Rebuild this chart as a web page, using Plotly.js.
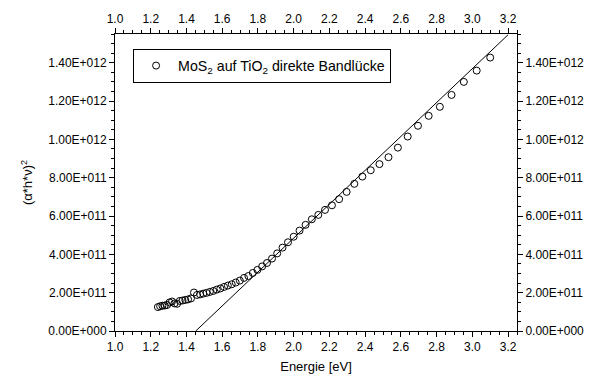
<!DOCTYPE html>
<html>
<head>
<meta charset="utf-8">
<script src="https://cdn.plot.ly/plotly-3.0.1.min.js"></script>
<style>html,body{margin:0;padding:0;background:#fff;}#chart{width:589px;height:379px;}</style>
</head>
<body>
<div id="chart"></div>
<script>
// Photon energy (eV) of measured points
const energy = [1.2400,1.2525,1.2653,1.2784,1.2917,1.3053,1.3191,1.3333,1.3478,1.3626,
  1.3778,1.3933,1.4091,1.4253,1.4419,1.4588,1.4762,1.4940,1.5122,1.5309,
  1.5500,1.5696,1.5897,1.6104,1.6316,1.6533,1.6757,1.6986,1.7222,1.7465,
  1.7714,1.7971,1.8235,1.8507,1.8788,1.9077,1.9375,1.9683,2.0000,2.0328,
  2.0667,2.1017,2.1379,2.1754,2.2143,2.2545,2.2963,2.3396,2.3846,2.4314,
  2.4800,2.5306,2.5833,2.6383,2.6957,2.7556,2.8182,2.8837,2.9524,3.0244,3.1000];
// (alpha*h*nu)^2
const tauc = [1.25e11,1.29e11,1.32e11,1.33e11,1.36e11,1.49e11,1.54e11,1.44e11,1.42e11,1.57e11,
  1.59e11,1.62e11,1.65e11,1.70e11,2.01e11,1.88e11,1.91e11,1.95e11,1.99e11,2.04e11,
  2.09e11,2.16e11,2.22e11,2.30e11,2.37e11,2.44e11,2.53e11,2.63e11,2.77e11,2.87e11,
  3.03e11,3.19e11,3.37e11,3.55e11,3.78e11,4.05e11,4.35e11,4.63e11,4.92e11,5.24e11,
  5.54e11,5.83e11,6.06e11,6.32e11,6.56e11,6.88e11,7.26e11,7.68e11,8.06e11,8.39e11,
  8.71e11,9.07e11,9.57e11,1.015e12,1.071e12,1.123e12,1.170e12,1.232e12,1.300e12,1.359e12,1.427e12];
// Linear fit (band gap extrapolation)
const fitX = [1.452, 3.2];
const fitY = [0, 1.546e12];

const xTicks = [1.0,1.2,1.4,1.6,1.8,2.0,2.2,2.4,2.6,2.8,3.0,3.2];
const xTickText = ["1.0","1.2","1.4","1.6","1.8","2.0","2.2","2.4","2.6","2.8","3.0","3.2"];
const yTicks = [0,2e11,4e11,6e11,8e11,1e12,1.2e12,1.4e12];
const yTickText = ["0.00E+000","2.00E+011","4.00E+011","6.00E+011","8.00E+011","1.00E+012","1.20E+012","1.40E+012"];

const seriesName = "MoS<sub>2</sub> auf TiO<sub>2</sub> direkte Bandlücke";
const font = "Liberation Sans, Arial, sans-serif";

const traces = [
  {x: energy, y: tauc, type: 'scatter', mode: 'markers', name: seriesName,
   marker: {symbol: 'circle-open', size: 7, color: '#000', line: {width: 1, color: '#000'}}},
  {x: fitX, y: fitY, type: 'scatter', mode: 'lines', showlegend: false,
   line: {color: '#000', width: 1}},
  {x: fitX, y: fitY, xaxis: 'x2', yaxis: 'y2', type: 'scatter', mode: 'lines',
   showlegend: false, hoverinfo: 'skip', line: {color: 'rgba(0,0,0,0)', width: 0}}
];

const xRange = [1.0, 3.25];
const yRange = [0, 1.55e12];
const common = {showgrid: false, zeroline: false, showline: true, linecolor: '#000', linewidth: 1,
  ticks: 'outside', ticklen: 5, tickwidth: 1, tickcolor: '#000',
  tickfont: {family: font, size: 12, color: '#000'}};

const layout = {
  width: 589, height: 379,
  margin: {l: 115, r: 72, t: 34, b: 48},
  paper_bgcolor: '#fff', plot_bgcolor: '#fff',
  font: {family: font, size: 12, color: '#000'},
  showlegend: true,
  legend: {x: 0.045, y: 0.95, xanchor: 'left', yanchor: 'top', bgcolor: '#fff', itemwidth: 34,
    bordercolor: '#000', borderwidth: 1, font: {family: font, size: 14.2, color: '#000'}},
  xaxis: Object.assign({}, common, {range: xRange, tickmode: 'array', tickvals: xTicks, ticktext: xTickText,
    minor: {dtick: 0.05, ticks: 'outside', ticklen: 3, tickcolor: '#000', tickwidth: 1},
    title: {text: 'Energie [eV]', font: {family: font, size: 13, color: '#000'}, standoff: 8}}),
  yaxis: Object.assign({}, common, {range: yRange, tickmode: 'array', tickvals: yTicks, ticktext: yTickText,
    minor: {dtick: 5e10, ticks: 'outside', ticklen: 3, tickcolor: '#000', tickwidth: 1},
    title: {text: '(α*h*ν)<sup>2</sup>', font: {family: font, size: 13, color: '#000'}, standoff: 12}}),
  xaxis2: Object.assign({}, common, {range: xRange, overlaying: 'x', side: 'top', anchor: 'y2',
    tickmode: 'array', tickvals: xTicks, ticktext: xTickText,
    minor: {dtick: 0.05, ticks: 'outside', ticklen: 3, tickcolor: '#000', tickwidth: 1}}),
  yaxis2: Object.assign({}, common, {range: yRange, overlaying: 'y', side: 'right', anchor: 'x2',
    tickmode: 'array', tickvals: yTicks, ticktext: yTickText,
    minor: {dtick: 5e10, ticks: 'outside', ticklen: 3, tickcolor: '#000', tickwidth: 1}})
};

Plotly.newPlot('chart', traces, layout, {staticPlot: true, displayModeBar: false});
</script>
</body>
</html>
